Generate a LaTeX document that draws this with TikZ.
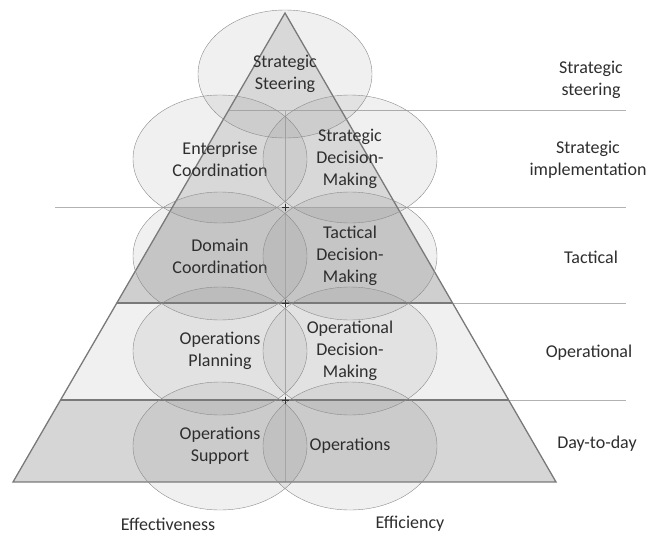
\documentclass[tikz,border=0pt]{standalone}
\usepackage{fontspec}
\setmainfont{Carlito}
\usepackage{tikz}
\usetikzlibrary{shapes.geometric}

\begin{document}
\begin{tikzpicture}[
    x=1pt, y=-1pt,
    cell/.style  = {draw=gray!90, ellipse, fill=gray, fill opacity=0.12,
                    text opacity=1, minimum width=174pt, minimum height=128pt,
                    inner sep=0pt, align=center, text=black!82,
                    font=\fontsize{18}{22}\selectfont},
    lvl/.style   = {align=center, text=black!82,
                    font=\fontsize{18}{22}\selectfont},
    guide/.style = {draw=gray!60, line width=1pt},
    band/.style  = {draw=gray!95!black, line width=1.3pt},
]
    \useasboundingbox (0,0) rectangle (658,535);

    % ── Pyramide ──
    \coordinate (apex) at (285,13);
    \coordinate (bl) at (13,482);
    \coordinate (br) at (556,482);

    \begin{scope}
        \clip (apex) -- (bl) -- (br) -- cycle;
        \fill[gray!20] (0,0) rectangle (658,207);
        \fill[gray!38] (0,207) rectangle (658,303);
        \fill[gray!12] (0,303) rectangle (658,400);
        \fill[gray!32] (0,400) rectangle (658,482);
    \end{scope}

    % ── Niveaux (lignes de séparation) ──
    \draw[guide] (229,110) -- (626,110);
    \draw[guide] (55,207) -- (626,207);
    \draw[guide] (117,303) -- (626,303);
    \draw[guide] (61,400) -- (626,400);
    \draw[guide] (285,110) -- (285,482);

    \draw[band] (117,303) -- (453,303);
    \draw[band] (61,400) -- (509,400);
    \draw[band] (apex) -- (bl) -- (br) -- cycle;

    % ── Ellipses ──
    \node[cell] (steer) at (285,74) {Strategic\\Steering};
    \node[cell] (entco) at (220,159) {Enterprise\\Coordination};
    \node[cell] (stdec) at (350,159) {Strategic\\Decision-\\Making};
    \node[cell] (domco) at (220,256) {Domain\\Coordination};
    \node[cell] (tadec) at (350,256) {Tactical\\Decision-\\Making};
    \node[cell] (opplan) at (220,351) {Operations\\Planning};
    \node[cell] (opdec) at (350,351) {Operational\\Decision-\\Making};
    \node[cell] (opsup) at (220,446) {Operations\\Support};
    \node[cell] (ops) at (350,446) {Operations};

    % ── Croisements ──
    \foreach \y/\n in {207/xa, 303/xb, 400/xc} {
        \coordinate (\n) at (285,\y);
        \draw[gray!40!black, line width=0.8pt] ([xshift=-3.5pt]\n) -- ([xshift=3.5pt]\n)
              ([yshift=-3.5pt]\n) -- ([yshift=3.5pt]\n);
    }

    % ── Libellés ──
    \node[lvl] (lsteer) at (591,80) {Strategic\\steering};
    \node[lvl] (limpl) at (588,160) {Strategic\\implementation};
    \node[lvl] (ltact) at (591,257) {Tactical};
    \node[lvl] (loper) at (589,353) {Operational};
    \node[lvl] (lday) at (597,444) {Day-to-day};
    \node[lvl, inner sep=1pt] (effect) at (168,524) {Effectiveness};
    \node[lvl, inner sep=1pt] (effic) at (410,524) {Efficiency};

\end{tikzpicture}
\end{document}
